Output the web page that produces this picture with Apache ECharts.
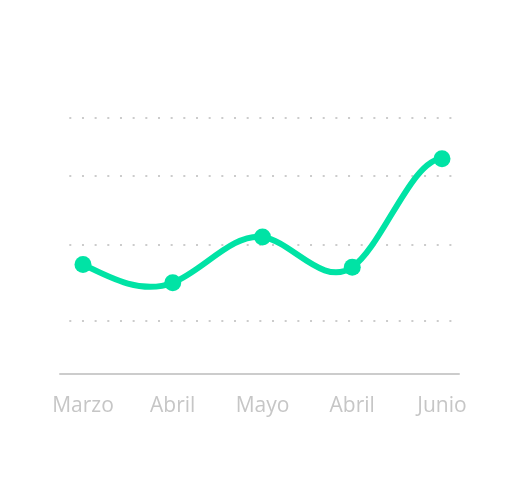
<!DOCTYPE html>
<html>
<head>
<meta charset="utf-8">
<script src="https://cdn.jsdelivr.net/npm/echarts@6/dist/echarts.min.js"></script>
<style>
  html, body { margin: 0; padding: 0; background: #fff; }
  #chart { width: 520px; height: 502px; }
</style>
</head>
<body>
<div id="chart"></div>
<script>
// datos del grafico
var meses = ['Marzo', 'Abril', 'Mayo', 'Abril', 'Junio'];
var valores = [40, 33.3, 50, 39, 78.6];
// lineas punteadas de fondo (no equidistantes en el original)
var lineasGuia = [19.4, 47.3, 72.2, 93.4];

var verde = '#00e3a5';
var gris = '#cccccc';

// derivadas de un spline cubico: inicio natural, final natural o fijo (dFinal)
function tangentes(v, dFinal) {
  var n = v.length - 1, a = [], b = [], c = [], r = [], D = [], i, m;
  a[0] = 0; b[0] = 2; c[0] = 1; r[0] = 3 * (v[1] - v[0]);
  for (i = 1; i < n; i++) { a[i] = 1; b[i] = 4; c[i] = 1; r[i] = 3 * (v[i + 1] - v[i - 1]); }
  if (dFinal == null) { a[n] = 1; b[n] = 2; c[n] = 0; r[n] = 3 * (v[n] - v[n - 1]); }
  else { a[n] = 0; b[n] = 1; c[n] = 0; r[n] = dFinal; }
  for (i = 1; i <= n; i++) { m = a[i] / b[i - 1]; b[i] -= m * c[i - 1]; r[i] -= m * r[i - 1]; }
  D[n] = r[n] / b[n];
  for (i = n - 1; i >= 0; i--) D[i] = (r[i] - c[i] * D[i + 1]) / b[i];
  return D;
}

function dibujarCurva(params, api) {
  if (params.dataIndex !== 0) return null;
  var pts = valores.map(function (v, i) { return api.coord([i, v]); });
  var xs = pts.map(function (p) { return p[0]; });
  var ys = pts.map(function (p) { return p[1]; });
  var dx = tangentes(xs, null), dy = tangentes(ys, 0);
  var d = 'M' + xs[0] + ',' + ys[0];
  for (var i = 0; i < xs.length - 1; i++) {
    d += 'C' + (xs[i] + dx[i] / 3) + ',' + (ys[i] + dy[i] / 3) + ',' +
      (xs[i + 1] - dx[i + 1] / 3) + ',' + (ys[i + 1] - dy[i + 1] / 3) + ',' +
      xs[i + 1] + ',' + ys[i + 1];
  }
  return {
    type: 'path',
    shape: { pathData: d },
    style: { fill: null, stroke: verde, lineWidth: 6, lineCap: 'round', lineJoin: 'round' }
  };
}

var chart = echarts.init(document.getElementById('chart'));

chart.setOption({
  animation: false,
  grid: [
    // fondo: eje x y lineas punteadas
    { left: 60, right: 61, top: 100, bottom: 128 },
    // la serie
    { left: 83, right: 78, top: 100, bottom: 128 }
  ],
  xAxis: [
    {
      gridIndex: 0,
      type: 'value',
      min: 0,
      max: 1,
      axisLine: { show: true, lineStyle: { color: gris, width: 2 } },
      axisTick: { show: false },
      axisLabel: { show: false },
      splitLine: { show: false }
    },
    {
      gridIndex: 1,
      type: 'category',
      boundaryGap: false,
      data: meses,
      axisLine: { show: false },
      axisTick: { show: false },
      splitLine: { show: false },
      axisLabel: {
        margin: 22,
        color: '#c6c6c6',
        fontFamily: 'Open Sans',
        fontSize: 21
      }
    }
  ],
  yAxis: [
    {
      gridIndex: 0,
      type: 'value',
      min: 0,
      max: 100,
      axisLine: { show: false },
      axisTick: { show: false, customValues: lineasGuia },
      axisLabel: { show: false },
      splitLine: {
        show: true,
        lineStyle: { color: gris, width: 2, type: [2, 10.67], dashOffset: 3.37 }
      }
    },
    {
      gridIndex: 1,
      type: 'value',
      min: 0,
      max: 100,
      axisLine: { show: false },
      axisTick: { show: false },
      axisLabel: { show: false },
      splitLine: { show: false }
    }
  ],
  series: [
    {
      type: 'custom',
      xAxisIndex: 1,
      yAxisIndex: 1,
      data: valores.map(function (v, i) { return [i, v]; }),
      renderItem: dibujarCurva,
      clip: false,
      z: 2
    },
    {
      type: 'scatter',
      xAxisIndex: 1,
      yAxisIndex: 1,
      data: valores,
      symbol: 'circle',
      symbolSize: 17,
      itemStyle: { color: verde, opacity: 1 },
      z: 3
    }
  ]
});
</script>
</body>
</html>
